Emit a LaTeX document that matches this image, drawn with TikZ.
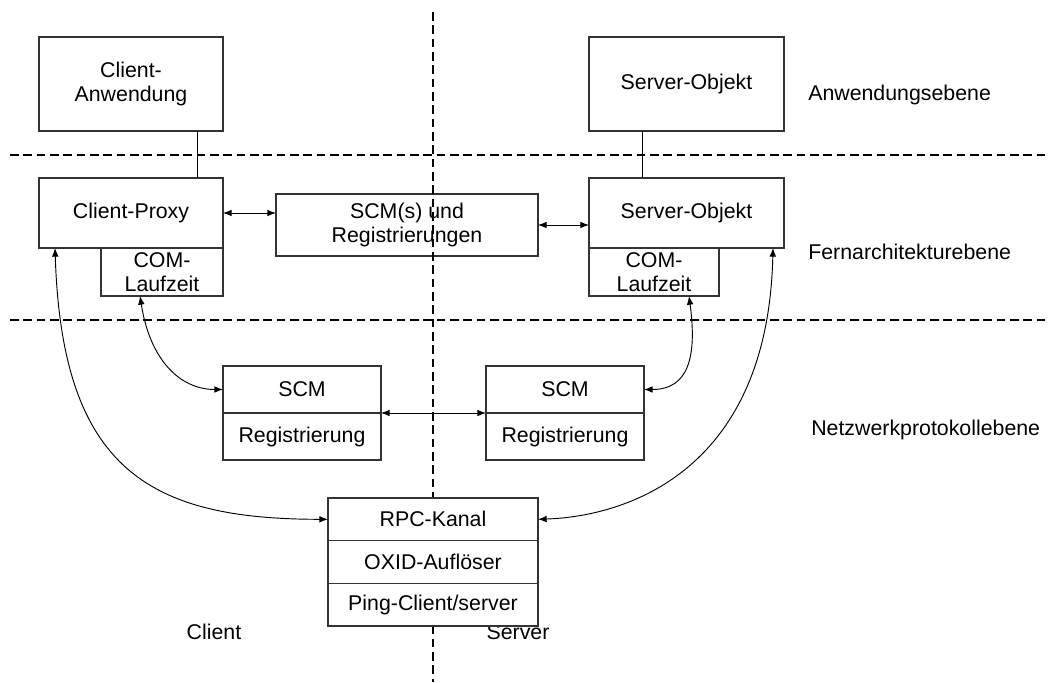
\documentclass[tikz,border=0pt]{standalone}
\usepackage{fontspec}
\setmainfont{Liberation Sans}
\usetikzlibrary{arrows.meta,calc}
\definecolor{boxline}{gray}{0.2}
\begin{document}
\begin{tikzpicture}[x=0.75pt,y=-0.75pt,
  every node/.style={font=\fontsize{16}{17.5}\selectfont},
  box/.style={draw=boxline,line width=0.95pt,fill=white,inner sep=0pt,outer sep=0pt,align=center},
  link/.style={draw=black,line width=0.7pt},
  dual/.style={link,{Latex[length=6.5pt,width=5pt]}-{Latex[length=6.5pt,width=5pt]}},
  divider/.style={draw=black,line width=1.5pt,dash pattern=on 6.5pt off 3.5pt},
  layer/.style={anchor=west,inner sep=0pt}]
\useasboundingbox (0,0) rectangle (1049,682);

% application layer
\node[box,minimum width=138pt,minimum height=70.5pt] (ca) at (131,84) {Client-\\Anwendung};
\node[box,minimum width=146.25pt,minimum height=70.5pt] (sa) at (686.5,84) {Server-Objekt};

% remote architecture layer
\node[box,minimum width=138pt,minimum height=52.5pt] (cp) at (131,213) {Client-Proxy};
\node[box,minimum width=91.5pt,minimum height=36pt] (comL) at (162,272) {COM-\\Laufzeit};
\node[box,minimum width=196.5pt,minimum height=46.5pt] (scms) at (407,225) {SCM(s) und\\Registrierungen};
\node[box,minimum width=146.25pt,minimum height=52.5pt] (so) at (686.5,213) {Server-Objekt};
\node[box,minimum width=97.5pt,minimum height=36pt] (comR) at (654,272) {COM-\\Laufzeit};

% network protocol layer
\node[box,minimum width=118.5pt,minimum height=35.25pt] (scmL) at (302,389.5) {SCM};
\node[box,minimum width=118.5pt,minimum height=35.25pt] (regL) at (302,436.5) {Registrierung};
\node[box,minimum width=118.5pt,minimum height=35.25pt] (scmR) at (565,389.5) {SCM};
\node[box,minimum width=118.5pt,minimum height=35.25pt] (regR) at (565,436.5) {Registrierung};

% layer and side labels
\node[layer] (lay1) at (808,95) {Anwendungsebene};
\node[layer] (lay2) at (808,252) {Fernarchitekturebene};
\node[layer] (lay3) at (811,430) {Netzwerkprotokollebene};
\node (clientlbl) at (214,632) {Client};
\node (serverlbl) at (518,632) {Server};

% layer separators and client/server split
\draw[divider] (10,155) -- (1049,155);
\draw[divider] (10,320) -- (1049,320);
\draw[divider] (433,12) -- (433,682);

% RPC stack covers the split line
\node[box,minimum width=157.5pt,minimum height=32pt] (rpc) at (433,519.3) {RPC-Kanal};
\node[box,minimum width=157.5pt,minimum height=32pt] (oxid) at (433,562) {OXID-Auflöser};
\node[box,minimum width=157.5pt,minimum height=32pt] (ping) at (433,604.7) {Ping-Client/server};

% connectors
\coordinate (clx) at (197,0);
\coordinate (svx) at (642,0);
\draw[link] (ca.south -| clx) -- (cp.north -| clx);
\draw[link] (sa.south -| svx) -- (so.north -| svx);
\draw[dual] (cp.east) -- (cp.east -| scms.west);
\draw[dual] (scms.east) -- (scms.east -| so.west);
\draw[dual] (scmL.south east) -- (scmR.south west);
\draw[dual] ($(cp.south west)+(16,0)$) .. controls +(7,222) and +(-178,0) .. (rpc.west);
\draw[dual] ($(comL.south west)+(39,0)$) .. controls +(10,64) and +(-43,0) .. (scmL.west);
\draw[dual] ($(comR.south west)+(100,0)$) .. controls +(8,60) and +(45,0) .. (scmR.east);
\draw[dual] ($(so.south east)+(-11,0)$) .. controls +(-5,222) and +(90,-3) .. (rpc.east);
\end{tikzpicture}
\end{document}
